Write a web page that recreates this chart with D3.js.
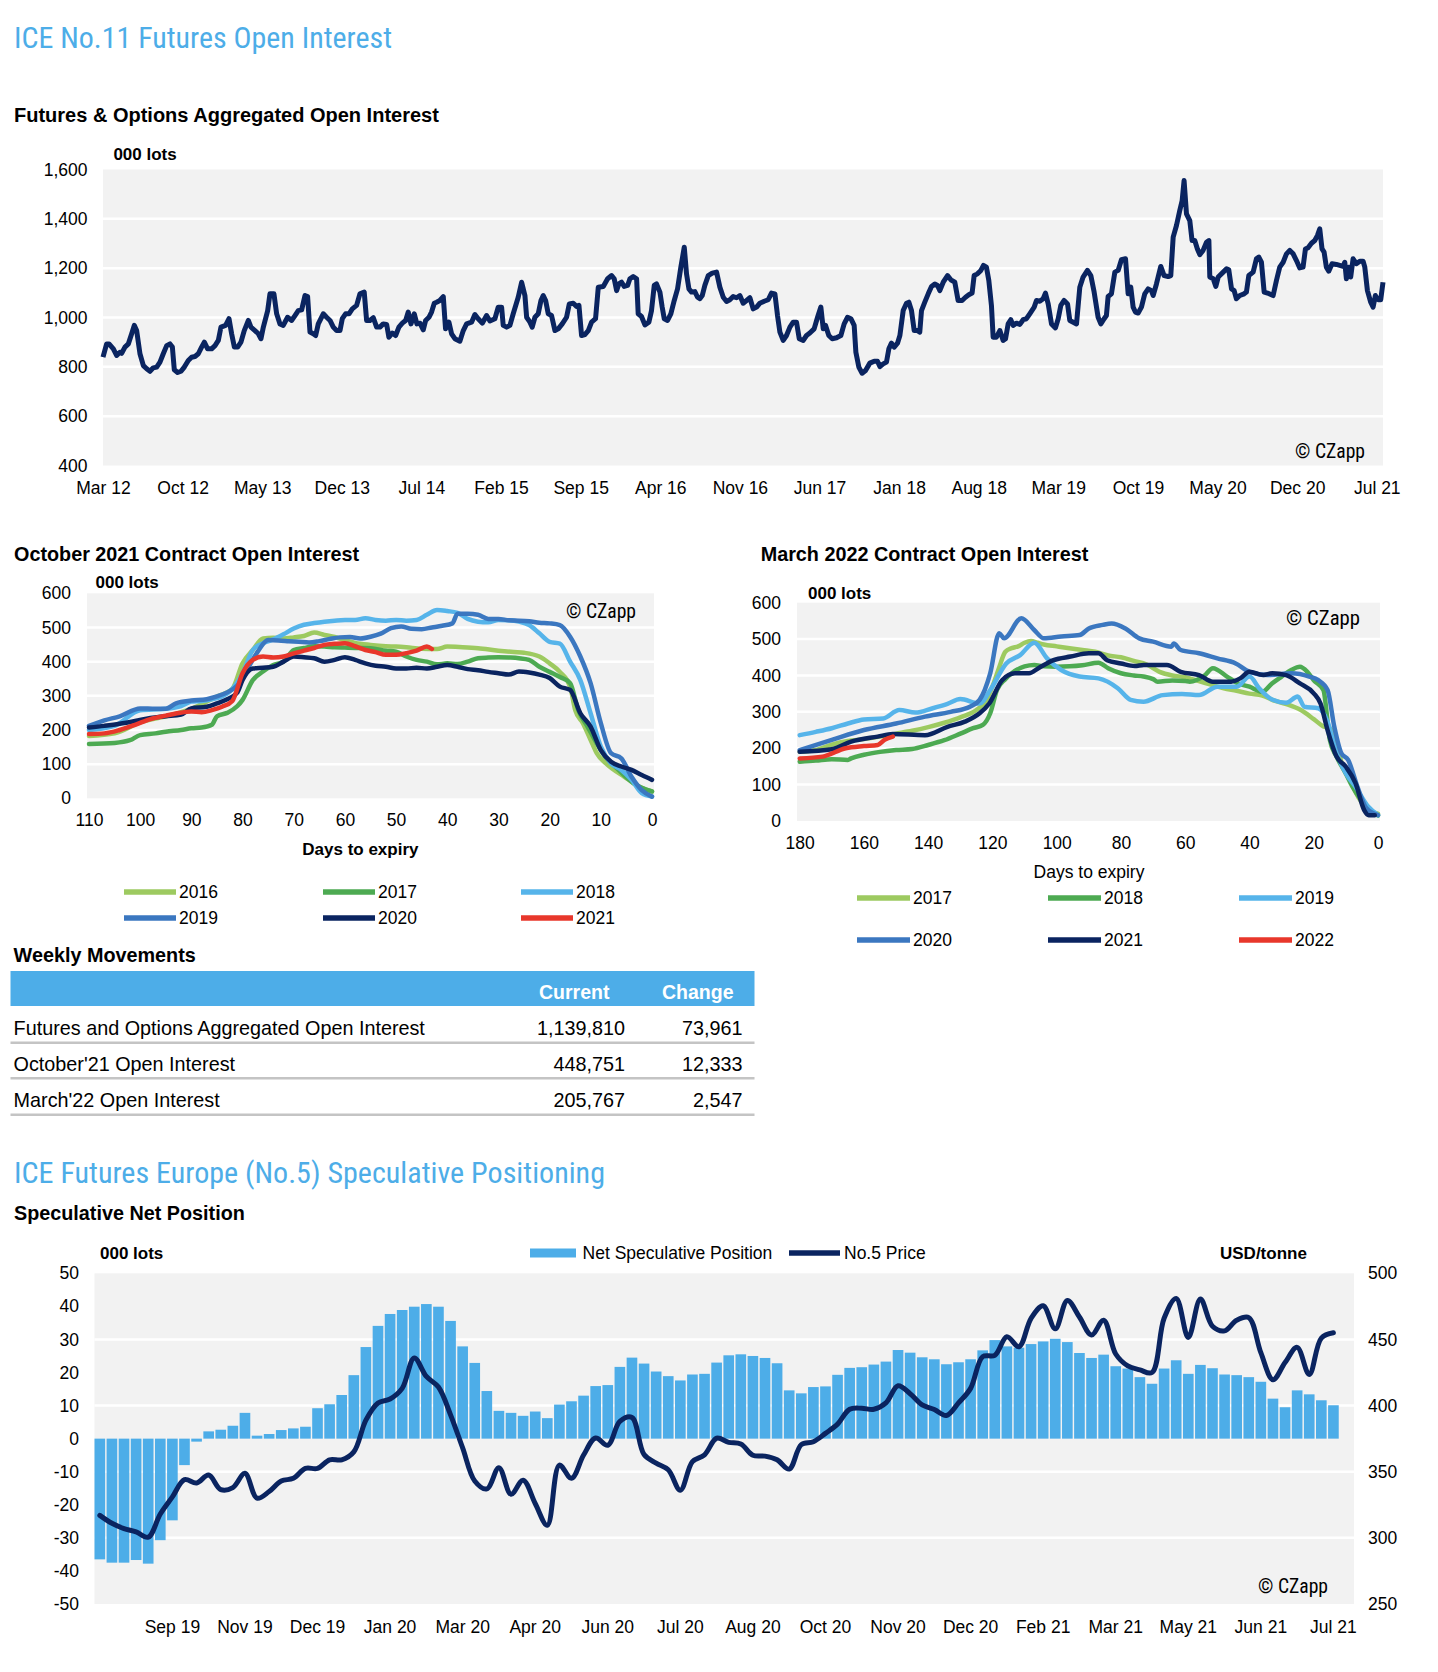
<!DOCTYPE html>
<html><head><meta charset="utf-8">
<script src="https://cdn.jsdelivr.net/npm/d3@7"></script>
<style>body{margin:0;background:#fff}svg{display:block}</style>
</head><body><svg id="chart" width="1438" height="1672"></svg>
<script>
// ---------------- DATA ----------------
// Aggregated open interest (000 lots), x = months since Mar 2012
const aggTickMonths = [0,7,14,21,28,35,42,49,56,63,70,77,84,91,98,105,112];
const aggTickLabels = ["Mar 12","Oct 12","May 13","Dec 13","Jul 14","Feb 15","Sep 15","Apr 16","Nov 16","Jun 17","Jan 18","Aug 18","Mar 19","Oct 19","May 20","Dec 20","Jul 21"];
const aggYTicks = [400,600,800,1000,1200,1400,1600];
const aggMonths = [0,0.32,0.53,0.91,1.20,1.49,1.64,1.93,2.23,2.52,2.75,2.96,3.25,3.55,3.84,4.13,4.42,4.72,5.01,5.30,5.60,5.89,6.10,6.27,6.56,6.86,7.15,7.50,7.79,8.09,8.38,8.67,8.91,9.20,9.55,9.85,10.14,10.37,10.78,11.08,11.31,11.55,11.84,12.13,12.42,12.78,13.01,13.36,13.66,13.89,14.10,14.48,14.68,15.03,15.27,15.56,15.85,16.23,16.59,16.88,17.17,17.47,17.76,17.99,18.20,18.49,18.70,18.93,19.37,19.66,19.96,20.25,20.54,20.84,21.04,21.33,21.63,21.92,22.30,22.59,22.97,23.18,23.47,23.77,24.06,24.35,24.64,24.94,25.14,25.44,25.73,26.02,26.32,26.61,26.84,27.08,27.37,27.60,27.87,28.16,28.37,28.66,28.89,29.13,
29.33,29.62,29.92,30.12,30.42,30.65,30.94,31.38,31.68,31.97,32.41,32.70,32.99,33.35,33.73,34.02,34.46,34.75,35.05,35.19,35.49,35.78,36.07,36.51,36.81,37.10,37.25,37.54,37.74,37.98,38.27,38.51,38.71,38.92,39.15,39.44,39.74,40.03,40.38,40.76,41.00,41.35,41.64,41.85,42.08,42.37,42.67,42.96,43.31,43.55,43.99,44.37,44.72,44.95,45.16,45.36,45.60,45.83,46.13,46.33,46.62,46.92,47.06,47.35,47.65,48.00,48.23,48.47,48.67,48.97,49.17,49.35,49.64,49.93,50.23,50.52,50.81,51.11,51.31,51.52,51.75,52.04,52.28,52.48,52.69,52.92,53.22,53.57,53.95,54.24,54.54,54.83,55.12,55.41,55.71,56.00,56.29,56.59,56.88,57.17,57.47,57.76,58.14,
58.49,58.78,59.08,59.31,59.52,59.81,60.10,60.40,60.69,60.98,61.22,61.57,61.86,62.15,62.53,62.83,63.12,63.33,63.53,63.82,64.12,64.50,64.88,65.17,65.47,65.76,66.05,66.20,66.46,66.75,67.05,67.43,67.81,68.10,68.31,68.60,68.89,69.10,69.33,69.57,69.86,70.07,70.36,70.65,70.86,71.09,71.33,71.62,71.82,71.97,72.26,72.56,72.85,73.14,73.38,73.58,73.88,74.26,74.55,74.90,75.19,75.54,75.84,76.13,76.42,76.60,76.89,77.19,77.42,77.68,77.89,78.12,78.27,78.56,78.86,79.15,79.36,79.59,79.82,80.03,80.32,80.62,80.91,81.20,81.49,81.88,82.08,82.37,82.67,82.87,83.11,83.40,83.75,83.99,84.22,84.51,84.81,85.01,85.31,85.60,85.89,86.18,86.56,86.86,87.15,
87.50,87.74,88.03,88.23,88.38,88.67,88.97,89.26,89.55,89.91,90.14,90.37,90.58,90.78,91.02,91.31,91.60,91.90,92.19,92.34,92.63,93.01,93.30,93.66,93.89,94.10,94.39,94.68,94.89,95.06,95.27,95.56,95.76,96.00,96.23,96.44,96.73,97.03,97.24,97.32,97.62,97.85,98.06,98.50,98.79,98.99,99.23,99.46,99.66,99.96,100.34,100.54,100.75,101.13,101.42,101.63,101.86,102.10,102.39,102.89,103.18,103.47,103.77,104.06,104.35,104.65,104.94,105.23,105.52,105.73,105.96,106.26,106.55,106.78,106.99,107.19,107.37,107.57,107.78,108.07,108.45,108.75,109.04,109.19,109.33,109.54,109.71,109.92,110.21,110.51,110.80,110.95,111.18,111.47,111.68,111.88,112.12,112.35,112.55];
const aggValues = [839,893,893,873,846,859,855,880,893,934,968,947,853,805,792,782,796,799,819,853,886,893,880,788,777,782,799,826,839,842,853,880,900,873,873,886,907,961,968,995,934,880,880,900,947,988,961,947,934,914,961,1028,1096,1096,1015,974,968,1001,988,1008,1028,1031,1089,1085,941,934,927,974,1015,1001,988,961,947,947,995,1015,1015,1035,1049,1096,1103,988,988,999,961,961,974,972,920,937,927,961,977,988,1022,974,1015,974,977,950,988,1001,1022,1058,
1062,1069,1085,954,981,934,914,904,947,974,981,1012,995,977,1008,986,995,1042,1042,968,961,968,1015,1082,1143,1089,1001,981,961,1001,1015,1069,1089,1069,1015,1008,947,954,974,1001,1055,1058,1045,1049,927,931,947,981,995,1123,1126,1157,1170,1157,1109,1136,1143,1126,1130,1157,1166,1157,1015,1004,970,981,1028,1130,1136,1103,1042,995,988,1015,1069,1116,1204,1285,1177,1116,1103,1105,1082,1076,1089,1130,1170,1180,1184,1123,1082,1065,1072,1085,1080,1089,1058,1069,1080,1035,1042,1058,1066,
1072,1099,1096,1008,941,907,927,961,981,981,914,907,927,937,954,1001,1042,954,968,927,914,918,927,974,1001,995,968,859,799,774,785,815,823,823,801,812,819,873,896,880,896,927,1028,1058,1062,1028,947,947,941,1028,1062,1096,1126,1136,1130,1109,1143,1170,1153,1143,1069,1069,1082,1092,1099,1170,1177,1191,1211,1204,1150,1049,920,920,947,907,914,974,991,968,977,972,991,995,1015,1042,1069,1066,1076,1099,1055,974,958,995,1049,1069,1055,988,981,974,1123,1164,1191,1170,1103,
1001,974,995,1008,1085,1096,1184,1191,1234,1238,1096,1123,1042,1022,1018,1042,1096,1116,1109,1089,1136,1207,1170,1166,1170,1326,1373,1434,1474,1555,1420,1393,1312,1312,1278,1255,1272,1305,1312,1164,1157,1126,1164,1184,1197,1193,1116,1109,1076,1089,1096,1103,1170,1184,1238,1245,1224,1103,1099,1089,1150,1204,1224,1258,1272,1258,1231,1201,1204,1278,1283,1301,1312,1332,1359,1278,1265,1204,1188,1218,1215,1211,1207,1224,1157,1204,1164,1238,1218,1228,1228,1204,1109,1062,1042,1089,1072,1072,1143];

// October 2021 contract open interest (000 lots) vs days to expiry
const octSeries = ["2016","2017","2018","2019","2020","2021"];
const octColors = ["#9DCA60","#4DAA52","#56B4EA","#3B77C0","#0A2460","#E8372B"];
const octDays2016 = [110,105,100,95,90,85,82,80,78,76,74,72,70,68,66,64,62,60,58,55,52,50,48,45,42,40,37,34,30,27,25,22,20,18,16,15,13.5,11.7,10.8,9,5.4,1.8,0];
const octOI2016   = [182,190,222,240,262,298,320,395,434,468,470,468,471,475,485,478,472,463,455,449,445,444,442,438,437,444,442,439,432,428,426,415,395,370,327,258,220,161,132,102,63,29,20];
const octDays2017 = [110,105,102,100,97,95,92,90,88,86,85,83,81,80,78,76,74,72,70,68,66,64,62,60,58,55,52,50,48,46,44,42,40,38,36,34,32,30,28,26,24,22,20,18,16,14.4,12.6,10.8,9.4,7.2,3.6,0];
const octOI2017   = [159,162,170,185,190,195,200,205,207,215,240,250,270,288,346,371,390,400,434,440,445,444,442,441,440,439,432,429,415,405,400,392,395,393,400,410,412,413,412,410,405,385,370,355,337,258,210,161,127,93,44,20];
const octDays2018 = [110,105,100,95,92,90,88,86,84,82,80,78,76,74,72,70,68,66,64,62,60,58,56,54,52,50,48,46,44,42,40,38,36,34,32,30,28,26,24,22,20,18,16,14,12,10,8,6,4,2,0];
const octOI2018   = [200,212,258,262,270,283,285,290,298,320,366,434,454,465,480,497,508,513,517,520,522,522,527,522,520,522,520,522,537,551,548,543,525,517,515,522,521,517,507,483,458,453,400,346,249,151,102,83,54,15,5];
const octDays2019 = [110,107,104,100,97,95,93,90,87,85,83,81,79,77,75,73,71,69,67,65,63,61,59,57,55,53,51,49,47,45,43,41,39,38,36,34,32,30,28,26,24,22,20,18,16,14,12,10,8,6,4,2,0];
const octOI2019   = [212,228,240,263,262,262,278,286,290,298,310,330,380,430,463,462,460,458,456,460,466,471,472,468,473,482,498,503,496,495,500,505,512,540,540,537,525,525,521,520,518,514,512,507,473,415,337,220,132,117,63,24,5];
const octDays2020 = [110,107,104,101,98,95,92,90,87,85,83,81,80,78,76,74,72,70,68,66,64,62,60,58,56,54,52,50,48,46,44,42,40,38,36,34,32,30,28,26,24,22,20,18,16,14,12,10,8,6,4,2,0];
const octOI2020   = [207,212,218,226,235,240,245,263,268,278,290,310,346,380,382,385,400,415,413,410,400,405,413,405,395,388,385,380,380,382,380,385,390,385,378,375,370,366,362,371,368,362,352,327,317,249,210,141,107,93,83,68,54];
const octDays2021 = [110,107,104,101,98,95,93,90,88,86,84,82,80,78,76,74,72,70,68,66,64,62,60,58,56,54,52,50,48,46,44,43];
const octOI2021   = [188,190,200,215,232,242,248,254,252,258,268,285,366,405,415,412,415,424,432,440,449,452,454,445,434,428,420,420,425,432,444,437];
const octXTicks = [110,100,90,80,70,60,50,40,30,20,10,0];
const octYTicks = [0,100,200,300,400,500,600];

// March 2022 contract open interest (000 lots) vs days to expiry
const marSeries = ["2017","2018","2019","2020","2021","2022"];
const marColors = ["#9DCA60","#4DAA52","#56B4EA","#3B77C0","#0A2460","#E8372B"];
const marDays2017 = [180,175,170,165,160,155,150,145,140,135,130,125,122,120,118,116,114,112,110,108,106,104,100,96,92,88,84,80,76,72,68,64,60,56,52,48,44,40,36,32,28,24,20,17,15,13,11,9,7,5,3,0];
const marOI2017   = [190,195,210,220,225,232,240,248,258,270,285,305,330,370,420,465,475,480,490,495,490,485,480,475,470,465,455,450,440,430,410,400,395,385,375,365,358,350,345,330,320,305,280,260,255,220,150,120,80,50,30,20];
const marDays2018 = [180,175,170,165,164,160,155,150,145,140,135,130,126,123,120.7,118.6,116,114,110,107,104,100,96,92,87,84,80,76,73,70,68.6,64,60,58.6,54,51.4,47,44,40,36,33,30,27,24.3,22,20,17,15,12.9,10,8,5,2,0];
const marOI2018   = [163,166,170,168,172,182,190,195,198,209,222,240,255,264,296,360,390,406,425,429,425,424,425,428,435,420,406,400,397,390,383,386,385,383,400,420,397,380,369,355,378,397,415,424,410,387,360,223,177,130,95,55,25,15];
const marDays2019 = [180,175,170,165,160,154,149,144,138.6,134,130,124,120.7,115.7,111.4,107,103,98.6,92.9,87,81,77,73,67,61,55.7,50,44,40,37,33,28.6,25,22.9,18.6,15.7,12.9,10,7,3,0];
const marOI2019   = [236,245,255,268,279,282,305,298,310,322,335,323,360,433,456,490,447,415,397,392,365,333,328,346,349,346,369,369,397,365,334,325,342,314,310,273,186,131,94,39,16];
const marDays2020 = [180,170,160,150,141,133,127,124,120.7,117.9,116.4,111,107,104,98.6,92.9,90,85.7,82.9,78.6,74.3,70,64.3,63.6,61.4,55.7,50,44.3,40,34.3,27,21.4,18.6,15.7,13.6,11.4,9.3,6.4,3.6,0];
const marOI2020   = [195,223,250,268,287,300,314,333,406,516,502,557,525,502,507,511,529,539,543,529,502,493,479,488,470,461,447,433,410,401,406,397,387,360,259,186,168,94,35,16];
const marDays2021 = [180,170,164,155.7,151,141,134,128.6,124,121,117,113,108.6,105.7,101,95.7,90,87,84.3,80,75.7,72.9,65.7,61.4,55.7,51.4,45.7,42.9,40,35.7,32.9,28.6,24.3,20,17.9,15.7,12.9,10,7,4.3,2.9,1];
const marOI2021   = [190,197,218,232,239,236,259,273,296,323,387,406,406,420,442,452,461,461,442,433,426,429,429,410,401,383,383,392,410,401,406,401,378,351,323,250,177,149,104,30,16,16];
const marDays2022 = [180,172.9,165.7,160,155.7,153.6,151];
const marOI2022   = [172,177,200,206,209,223,232];
const marXTicks = [180,160,140,120,100,80,60,40,20,0];
const marYTicks = [0,100,200,300,400,500,600];

// Weekly movements table
const tableLabels  = ["Futures and Options Aggregated Open Interest","October'21 Open Interest","March'22 Open Interest"];
const tableCurrent = [1139810, 448751, 205767];
const tableChange  = [73961, 12333, 2547];

// Speculative positioning (weekly)
const specNet = [-36.5,-37.5,-37.5,-36.7,-37.8,-30.7,-24.7,-8,-0.9,2.2,2.7,3.9,7.8,0.9,1.4,2.6,3.1,3.6,9.2,10.4,13.2,19.2,27.7,34.1,37.7,38.9,39.9,40.7,39.9,35.6,27.9,22.9,14.4,8.4,7.8,6.9,8.2,6.2,10.3,11.3,13.0,15.9,16.2,21.7,24.5,22.7,20.3,18.9,17.6,19.4,19.6,23.0,25.2,25.5,25.0,24.4,22.8,14.6,13.7,15.6,15.8,19.3,21.4,21.6,22.4,23.3,26.8,26.0,24.6,24.0,22.5,23.1,24.0,26.7,29.8,27.9,27.5,28.6,29.4,30.2,29.2,25.9,24.4,25.4,21.9,21.2,18.6,16.6,21.2,23.7,19.6,22.3,21.3,19.4,19.2,18.6,17.2,12.1,9.5,14.6,13.4,11.6,10.1];
const no5Price = [317,311,307,304.5,300.5,318,331,344,341.5,347.5,336.5,338,348.8,330,335,343,345,352.5,352.5,359,359,365,389,402,405,413,436,422,414,393,368,343,337,353,333,343.5,326,309.5,355,345,362.6,375.5,370,388,391,363,356.5,351.5,336,357.6,362.8,375.3,372.2,371,362.5,361.8,359,352,370.5,372.7,379,386,397.2,398,397.2,402,415,409,400.5,397,392.5,402,413,437,438,452,444.5,466,475.5,458,479.5,467,453.4,464.5,439,430,427,425,466,481,451.5,480.5,460,456.5,464.5,466.5,440,419.6,432.5,444,423.5,451,455];
const specTickIndex  = [6,12,18,24,30,36,42,48,54,60,66,72,78,84,90,96,102];
const specTickLabels = ["Sep 19","Nov 19","Dec 19","Jan 20","Mar 20","Apr 20","Jun 20","Jul 20","Aug 20","Oct 20","Nov 20","Dec 20","Feb 21","Mar 21","May 21","Jun 21","Jul 21"];
const specLeftTicks  = [-50,-40,-30,-20,-10,0,10,20,30,40,50];
const specRightTicks = [250,300,350,400,450,500];

// ---------------- DRAWING ----------------
const svg = d3.select("#chart");
const FONT = "'Liberation Sans', Arial, Helvetica, sans-serif";
const NARROW = "'Liberation Sans Narrow', 'Roboto Condensed', 'Liberation Sans', Arial, sans-serif";
const NAVY = "#0A2460", BLUE = "#4DADE8", BG = "#F2F2F2";
const plain = d => String(d);

function label(x, y, text, o = {}) {
  const t = svg.append("text").attr("x", x).attr("y", y).text(text)
    .attr("font-family", o.family || FONT).attr("font-size", o.size || 17.5)
    .attr("font-weight", o.weight || "normal").attr("fill", o.fill || "#000")
    .attr("text-anchor", o.anchor || "start");
  if (o.len) t.attr("textLength", o.len).attr("lengthAdjust", "spacingAndGlyphs");
  return t;
}
function styleAxis(g, size) {
  g.select(".domain").remove();
  g.selectAll(".tick line").remove();
  g.attr("font-family", FONT).attr("font-size", size);
  g.selectAll("text").attr("fill", "#000");
}
function panel(x0, x1, y0, y1) {
  svg.append("rect").attr("x", x0).attr("y", y0).attr("width", x1 - x0).attr("height", y1 - y0).attr("fill", BG);
}
function hgrid(vals, yS, x0, x1) {
  svg.append("g").selectAll("line").data(vals).join("line")
    .attr("x1", x0).attr("x2", x1).attr("y1", d => yS(d)).attr("y2", d => yS(d))
    .attr("stroke", "#fff").attr("stroke-width", 2.5);
}

// ===== Section 1 =====
label(14, 48.3, "ICE No.11 Futures Open Interest", {size: 30, fill: BLUE, family: NARROW, len: 378});
label(14, 122, "Futures & Options Aggregated Open Interest", {size: 20, weight: "bold"});
label(113.4, 160.2, "000 lots", {size: 17, weight: "bold"});

const aggX = d3.scaleLinear().domain([0, 112.55]).range([103, 1383]);
const aggY = d3.scaleLinear().domain([400, 1600]).range([465.5, 169.5]);
panel(103, 1383, 169.5, 465.5);
hgrid(aggYTicks.slice(1, -1), aggY, 103, 1383);
svg.append("g").attr("transform", "translate(103,0)")
  .call(d3.axisLeft(aggY).tickValues(aggYTicks).tickFormat(d3.format(",")).tickSize(0).tickPadding(15.5))
  .call(g => styleAxis(g, 17.5));
svg.append("g").attr("transform", "translate(0,465.5)")
  .call(d3.axisBottom(aggX).tickValues(aggTickMonths).tickFormat((d, i) => aggTickLabels[i]).tickSize(0).tickPadding(16.5))
  .call(g => styleAxis(g, 17.5));
svg.append("path").datum(d3.zip(aggMonths, aggValues))
  .attr("d", d3.line().x(d => aggX(d[0])).y(d => aggY(d[1])))
  .attr("fill", "none").attr("stroke", NAVY).attr("stroke-width", 5).attr("stroke-linejoin", "round");
label(1295, 458, "© CZapp", {size: 21, family: NARROW, len: 70});

// ===== October 2021 chart =====
label(14, 560.5, "October 2021 Contract Open Interest", {size: 19.8, weight: "bold"});
label(95.5, 588, "000 lots", {size: 17, weight: "bold"});
const octX = d3.scaleLinear().domain([110, 0]).range([89, 652]);
const octY = d3.scaleLinear().domain([0, 600]).range([798.3, 593.3]);
panel(87, 654, 593.3, 798.3);
hgrid(octYTicks.slice(1, -1), octY, 87, 654);
svg.append("g").attr("transform", "translate(87,0)")
  .call(d3.axisLeft(octY).tickValues(octYTicks).tickFormat(plain).tickSize(0).tickPadding(16))
  .call(g => styleAxis(g, 17.5));
svg.append("g").attr("transform", "translate(0,798.3)")
  .call(d3.axisBottom(octX).tickValues(octXTicks).tickFormat(plain).tickSize(0).tickPadding(15.6))
  .call(g => styleAxis(g, 17.5));
const octData = [[octDays2016, octOI2016],[octDays2017, octOI2017],[octDays2018, octOI2018],[octDays2019, octOI2019],[octDays2020, octOI2020],[octDays2021, octOI2021]];
const octLine = d3.line().x(d => octX(d[0])).y(d => octY(d[1])).curve(d3.curveMonotoneX);
octData.forEach((s, i) => {
  svg.append("path").datum(d3.zip(s[0], s[1])).attr("d", octLine)
    .attr("fill", "none").attr("stroke", octColors[i]).attr("stroke-width", 4.5).attr("stroke-linejoin", "round").attr("stroke-linecap", "round");
});
label(566, 618, "© CZapp", {size: 20, family: NARROW, len: 70});
label(360.4, 855.3, "Days to expiry", {size: 17, weight: "bold", anchor: "middle"});
const octLegX = [124, 323, 521], octLegY = [892, 918];
octSeries.forEach((s, i) => {
  const lx = octLegX[i % 3], ly = octLegY[Math.floor(i / 3)];
  svg.append("line").attr("x1", lx).attr("x2", lx + 52).attr("y1", ly).attr("y2", ly)
    .attr("stroke", octColors[i]).attr("stroke-width", 5.5);
  label(lx + 55, ly + 6.2, s, {size: 17.5});
});

// ===== March 2022 chart =====
label(760.7, 560.5, "March 2022 Contract Open Interest", {size: 19.8, weight: "bold"});
label(808, 599.2, "000 lots", {size: 17, weight: "bold"});
const marX = d3.scaleLinear().domain([180, 0]).range([799.7, 1378]);
const marY = d3.scaleLinear().domain([0, 600]).range([821, 602.7]);
panel(797, 1380, 602.7, 821);
hgrid(marYTicks.slice(1, -1), marY, 797, 1380);
svg.append("g").attr("transform", "translate(797,0)")
  .call(d3.axisLeft(marY).tickValues(marYTicks).tickFormat(plain).tickSize(0).tickPadding(16))
  .call(g => styleAxis(g, 17.5));
svg.append("g").attr("transform", "translate(0,821)")
  .call(d3.axisBottom(marX).tickValues(marXTicks).tickFormat(plain).tickSize(0).tickPadding(15.9))
  .call(g => styleAxis(g, 17.5));
const marData = [[marDays2017, marOI2017],[marDays2018, marOI2018],[marDays2019, marOI2019],[marDays2020, marOI2020],[marDays2021, marOI2021],[marDays2022, marOI2022]];
const marLine = d3.line().x(d => marX(d[0])).y(d => marY(d[1])).curve(d3.curveMonotoneX);
marData.forEach((s, i) => {
  svg.append("path").datum(d3.zip(s[0], s[1])).attr("d", marLine)
    .attr("fill", "none").attr("stroke", marColors[i]).attr("stroke-width", 4.5).attr("stroke-linejoin", "round").attr("stroke-linecap", "round");
});
label(1286, 625, "© CZapp", {size: 20, family: NARROW, len: 74});
label(1089, 878, "Days to expiry", {size: 17.5, anchor: "middle"});
const marLegX = [857, 1048, 1239], marLegY = [898, 940];
marSeries.forEach((s, i) => {
  const lx = marLegX[i % 3], ly = marLegY[Math.floor(i / 3)];
  svg.append("line").attr("x1", lx).attr("x2", lx + 53).attr("y1", ly).attr("y2", ly)
    .attr("stroke", marColors[i]).attr("stroke-width", 5.5);
  label(lx + 56, ly + 6.2, s, {size: 17.5});
});

// ===== Weekly movements table =====
label(13.6, 962, "Weekly Movements", {size: 19.8, weight: "bold"});
svg.append("rect").attr("x", 10.5).attr("y", 971).attr("width", 744).attr("height", 35).attr("fill", BLUE);
label(539, 998.7, "Current", {size: 19.5, weight: "bold", fill: "#fff"});
label(662, 998.7, "Change", {size: 19.5, weight: "bold", fill: "#fff"});
const rowY = [1035, 1071, 1107], sepY = [1042.7, 1078.3, 1114.7];
tableLabels.forEach((t, i) => {
  label(13.6, rowY[i], t, {size: 19.8});
  label(625, rowY[i], d3.format(",")(tableCurrent[i]), {size: 19.8, anchor: "end"});
  label(742.6, rowY[i], d3.format(",")(tableChange[i]), {size: 19.8, anchor: "end"});
  svg.append("line").attr("x1", 10.5).attr("x2", 754.5).attr("y1", sepY[i]).attr("y2", sepY[i])
    .attr("stroke", "#C4C4C4").attr("stroke-width", 2.5);
});

// ===== Speculative positioning =====
label(14, 1182.5, "ICE Futures Europe (No.5) Speculative Positioning", {size: 30, fill: BLUE, family: NARROW, len: 591});
label(14, 1219.5, "Speculative Net Position", {size: 19.8, weight: "bold"});
label(100, 1259, "000 lots", {size: 17, weight: "bold"});
label(1220, 1259, "USD/tonne", {size: 17, weight: "bold"});
svg.append("rect").attr("x", 530).attr("y", 1248.5).attr("width", 46).attr("height", 9).attr("fill", BLUE);
label(582.6, 1259.3, "Net Speculative Position", {size: 17.5});
svg.append("line").attr("x1", 789).attr("x2", 840).attr("y1", 1253).attr("y2", 1253).attr("stroke", NAVY).attr("stroke-width", 5.5);
label(844, 1259.3, "No.5 Price", {size: 17.5});

const sx = d3.scaleBand().domain(d3.range(specNet.length)).range([94.5, 94.5 + specNet.length * 12.08]).paddingInner(0.12).paddingOuter(0);
const yL = d3.scaleLinear().domain([-50, 50]).range([1604, 1273.3]);
const yR = d3.scaleLinear().domain([250, 500]).range([1604, 1273.3]);
panel(94.5, 1354, 1273.3, 1604);
hgrid(specRightTicks.slice(1, -1), yR, 94.5, 1354);
svg.append("g").selectAll("rect").data(specNet).join("rect")
  .attr("x", (d, i) => sx(i)).attr("width", sx.bandwidth())
  .attr("y", d => yL(Math.max(0, d))).attr("height", d => Math.abs(yL(d) - yL(0)))
  .attr("fill", BLUE);
svg.append("path").datum(no5Price)
  .attr("d", d3.line().x((d, i) => sx(i) + sx.bandwidth() / 2).y(d => yR(d)).curve(d3.curveCatmullRom.alpha(0.5)))
  .attr("fill", "none").attr("stroke", NAVY).attr("stroke-width", 5).attr("stroke-linejoin", "round").attr("stroke-linecap", "round");
svg.append("g").attr("transform", "translate(94.5,0)")
  .call(d3.axisLeft(yL).tickValues(specLeftTicks).tickFormat(plain).tickSize(0).tickPadding(15.5))
  .call(g => styleAxis(g, 17.5));
svg.append("g").attr("transform", "translate(1354,0)")
  .call(d3.axisRight(yR).tickValues(specRightTicks).tickFormat(plain).tickSize(0).tickPadding(14))
  .call(g => styleAxis(g, 17.5));
svg.append("g").attr("transform", "translate(0,1604)")
  .call(d3.axisBottom(sx).tickValues(specTickIndex).tickFormat((d, i) => specTickLabels[i]).tickSize(0).tickPadding(17))
  .call(g => styleAxis(g, 17.5));
label(1258, 1593, "© CZapp", {size: 20, family: NARROW, len: 70});
</script>
</body></html>
